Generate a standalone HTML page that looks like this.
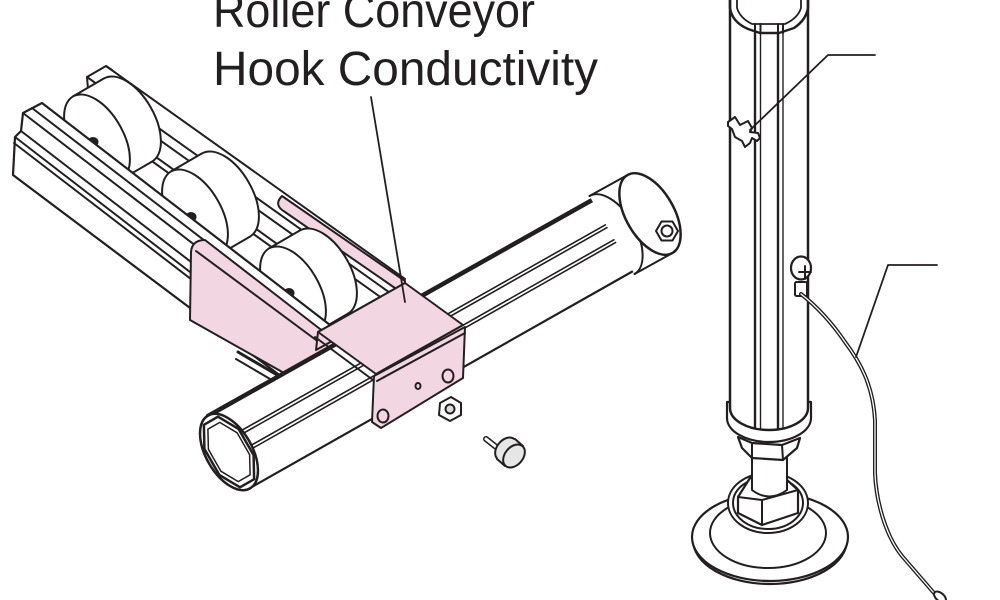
<!DOCTYPE html>
<html><head><meta charset="utf-8"><style>
html,body{margin:0;padding:0;background:#fff;}
svg{display:block;}
</style></head><body>
<svg width="1000" height="600" viewBox="0 0 1000 600" xmlns="http://www.w3.org/2000/svg">
<rect width="1000" height="600" fill="#fff"/>
<g font-family="'Liberation Sans', sans-serif" font-size="48" fill="#231f20">
<text x="213" y="27" textLength="322" lengthAdjust="spacingAndGlyphs">Roller Conveyor</text>
<text x="213" y="85" textLength="385" lengthAdjust="spacingAndGlyphs">Hook Conductivity</text>
</g>
<g fill="none" stroke="#231f20" stroke-width="2" stroke-linejoin="round" stroke-linecap="round">
<!-- back rail -->
<path d="M87,77 L106,66 L112,70 M87,77 L88,89"/>
<line x1="106" y1="66" x2="405" y2="279"/>
<line x1="87" y1="77" x2="400" y2="300"/>
<line x1="88" y1="89" x2="400" y2="311"/>
<line x1="110" y1="124" x2="330" y2="282"/>
<line x1="110" y1="131" x2="330" y2="289"/>
<!-- pink back strip -->
<path d="M282,196 L405,281 L405,295 L285,212 Q273,205 282,196 Z" fill="#f2d7e3"/>
<!-- roller 1 -->
<ellipse cx="128" cy="120" rx="48" ry="26" transform="rotate(60 128 120)" fill="#fff"/>
<polygon points="73,96.4 104,78.4 152,161.6 121,179.6" fill="#fff" stroke="none"/>
<line x1="73" y1="96.4" x2="104" y2="78.4"/><line x1="121" y1="179.6" x2="152" y2="161.6"/>
<ellipse cx="97" cy="138" rx="48" ry="26" transform="rotate(60 97 138)" fill="#fff"/>
<ellipse cx="93" cy="142" rx="4.5" ry="4" fill="#231f20"/>
<!-- roller 2 -->
<ellipse cx="226" cy="195" rx="48" ry="26" transform="rotate(60 226 195)" fill="#fff"/>
<polygon points="171,171.4 202,153.4 250,236.6 219,254.6" fill="#fff" stroke="none"/>
<line x1="171" y1="171.4" x2="202" y2="153.4"/><line x1="219" y1="254.6" x2="250" y2="236.6"/>
<ellipse cx="195" cy="213" rx="48" ry="26" transform="rotate(60 195 213)" fill="#fff"/>
<ellipse cx="191" cy="217" rx="4.5" ry="4" fill="#231f20"/>
<!-- roller 3 -->
<ellipse cx="324" cy="272" rx="48" ry="26" transform="rotate(60 324 272)" fill="#fff"/>
<polygon points="269,248.4 300,230.4 348,313.6 317,331.6" fill="#fff" stroke="none"/>
<line x1="269" y1="248.4" x2="300" y2="230.4"/><line x1="317" y1="331.6" x2="348" y2="313.6"/>
<ellipse cx="293" cy="290" rx="48" ry="26" transform="rotate(60 293 290)" fill="#fff"/>
<ellipse cx="289" cy="293" rx="4.5" ry="4" fill="#231f20"/>
<!-- front rail -->
<path d="M42,103 L330,325 L330,413 L13,175 L15,137 L21,131 L23,113 Z" fill="#fff" stroke="none"/>
<path d="M330,325 L42,103 L23,113 L21,131 L15,137 L13,175 L330,413" stroke-width="2.2"/>
<line x1="32" y1="108" x2="330" y2="337"/>
<line x1="23" y1="113" x2="330" y2="349"/>
<line x1="21" y1="131" x2="330" y2="369"/>
<line x1="15" y1="137" x2="330" y2="380"/>
<line x1="14" y1="143" x2="330" y2="386"/>
<!-- pink left plate -->
<path d="M191,252 Q192,240 205,240 L320,329 L333,337 L333,395 L300,382 L190,320 Z" fill="#f2d7e3"/>
<line x1="196" y1="251" x2="316" y2="340"/>
<!-- rail bottom piece -->
<line x1="238" y1="352" x2="284" y2="379" stroke-width="3"/>
<line x1="236" y1="359" x2="282" y2="386"/>
<!-- saddle back leg -->
<path d="M318,332 L405,283 L406,300 L316,350 Z" fill="#f2d7e3"/>
<!-- tube -->
<path d="M208,416 L594,199 L635,270 L250,488 Z" fill="#fff" stroke="none"/>
<line x1="208" y1="416" x2="594" y2="199" stroke-width="4.5"/>
<line x1="250" y1="488" x2="635" y2="270" stroke-width="2.2"/>
<line x1="222.7" y1="441.1" x2="607.9" y2="223.4" stroke-width="1.6"/>
<line x1="224.4" y1="444" x2="609.5" y2="226.2" stroke-width="1.6"/>
<line x1="231.5" y1="456.4" x2="616.5" y2="238.3" stroke-width="1.6"/>
<line x1="233.2" y1="459.3" x2="618.1" y2="241.1" stroke-width="1.6"/>
<ellipse cx="229" cy="452" rx="42" ry="23" transform="rotate(60 229 452)" fill="#fff" stroke-width="2.5"/>
<polygon points="254.1,479.2 253.6,455.1 238.7,429.1 218,416.7 203.9,424.8 204.4,448.9 219.3,474.9 240,487.3" stroke-width="2.5"/>
<polygon points="250.1,474.8 249.6,454.6 237.1,432.8 219.8,422.4 207.9,429.2 208.4,449.4 220.9,471.2 238.2,481.6" stroke-width="1.5"/>
<!-- tube end cap -->
<path d="M589.5,196 L627.5,175 L672.5,253 L634.5,274 Z" fill="#fff" stroke="none"/>
<line x1="589.5" y1="196" x2="627.5" y2="175"/>
<line x1="634.5" y1="274" x2="672.5" y2="253"/>
<path d="M589.5,196 A45,24 60 0 1 634.5,274"/>
<ellipse cx="650" cy="214" rx="45" ry="24" transform="rotate(60 650 214)" fill="#fff" stroke-width="2.5"/>
<polygon points="678,231 672.5,240.5 661.5,240.5 656,231 661.5,221.5 672.5,221.5" stroke-width="2"/>
<circle cx="667" cy="231" r="5.5"/>
<!-- saddle -->
<path d="M374,376 L465,327 L463,378 L381,428 L372,422 Z" fill="#f2d7e3"/>
<polygon points="318,332 405,283 463,325 376,374" fill="#f2d7e3"/>
<line x1="377" y1="381" x2="465" y2="333"/>
<line x1="315" y1="337" x2="373" y2="380"/>
<ellipse cx="383" cy="416" rx="5.5" ry="6.5" fill="#f2d7e3"/>
<ellipse cx="448" cy="376" rx="5.5" ry="6.5" fill="#f2d7e3"/>
<ellipse cx="418" cy="386" rx="2.5" ry="3"/>
<!-- leader from text -->
<line x1="371" y1="97" x2="405" y2="302" stroke-width="1.8"/>
<!-- nut -->
<polygon points="440,403 451,397 461,403 461,415 450,421 439,415" fill="#fff"/>
<circle cx="450" cy="409" r="4.5" fill="#ddd"/>
<!-- screw -->
<line x1="486" y1="439" x2="500" y2="450" stroke-width="6"/>
<line x1="486" y1="439" x2="500" y2="450" stroke="#fff" stroke-width="3"/>
<ellipse cx="506" cy="449" rx="13" ry="9" transform="rotate(130 506 449)" fill="#e6e6e6"/>
<polygon points="515,439 523,446 505,466 497,459" fill="#e6e6e6" stroke="none"/>
<line x1="515" y1="439" x2="523" y2="446"/><line x1="497" y1="459" x2="505" y2="466"/>
<ellipse cx="514" cy="456" rx="13" ry="9" transform="rotate(130 514 456)" fill="#e6e6e6"/>

<!-- POLE -->
<!-- base -->
<ellipse cx="770" cy="540" rx="77" ry="44" fill="#fff" stroke-width="2.2"/>
<ellipse cx="770" cy="537" rx="78" ry="44" fill="#fff" stroke-width="2.2"/>
<ellipse cx="768" cy="533" rx="58" ry="35" stroke-width="2"/>
<ellipse cx="768" cy="503" rx="40" ry="30" fill="#fff" stroke-width="2"/>
<ellipse cx="768" cy="503" rx="35" ry="26" stroke-width="2"/>
<!-- lower nut -->
<polygon points="738,497 750,478 787,480 798,490 798,513 762,525 738,513" fill="#fff" stroke-width="2.2"/>
<path d="M738,497 L762,500 L798,490 M762,500 L762,525"/>
<!-- stem -->
<path d="M752,455 L752,490 Q769,503 787,490 L787,455 Z" fill="#fff"/>
<!-- upper nut -->
<polygon points="738,437 752,443 782,445 800,438 797,448 783,460 752,458 742,448" fill="#fff" stroke-width="2.2"/>
<path d="M752,443 L752,458 M782,445 L783,460"/>
<!-- collar -->
<path d="M727,402 L727,418 A42,24 0 0 0 811,418 L811,402 Z" fill="#fff" stroke-width="2.2"/>
<!-- body -->
<path d="M730,-5 L730,408 A39,22 0 0 0 808,408 L808,-5 Z" fill="#fff" stroke-width="2.5"/>
<line x1="755" y1="33" x2="755" y2="428" stroke-width="2.4"/>
<line x1="760.5" y1="33" x2="760.5" y2="429" stroke-width="1.4"/>
<line x1="778" y1="33" x2="778" y2="429" stroke-width="2.4"/>
<line x1="783" y1="33" x2="783" y2="428" stroke-width="1.4"/>
<path d="M730,0 L730,8 Q732,22 748,29 L760,33 L779,33 L794,28 Q806,20 808,8 L808,0" stroke-width="2.5"/>
<path d="M737,0 L737,8 Q740,18 752,24 L785,24 Q798,18 801,8 L801,0" stroke-width="1.8"/>
<path d="M755,24 L755,33 M760.5,24 L760.5,33 M778,24 L778,33 M783,24 L783,33"/>
<!-- clip -->
<path d="M728,122 L735,117 L740,125 L748,121 L752,128 L750,132 L758,133 L760,138 L757,141 L752,138 L750,143 L745,147 L742,141 L735,137 L732,129 L728,126 Z" fill="#fff"/>
<polyline points="750,130 828,55 875,55" stroke-width="1.8"/>
<!-- terminal -->
<ellipse cx="801" cy="268" rx="10" ry="11.5" fill="#fff" stroke-width="2.2"/>
<path d="M799,272 L811,272 M805,266 L805,279" stroke-width="2"/>
<rect x="795" y="282" width="12" height="14" rx="1.5" fill="#fff" stroke-width="2"/>
<!-- cable -->
<path d="M801,294 C815,305 830,320 845,342 C860,362 873,385 875,420 L875,473 C876,500 885,535 902,556 L934,593" stroke-width="4"/>
<path d="M801,294 C815,305 830,320 845,342 C860,362 873,385 875,420 L875,473 C876,500 885,535 902,556 L934,593" stroke="#fff" stroke-width="1.3"/>
<ellipse cx="940" cy="597" rx="7" ry="4" transform="rotate(40 940 597)" fill="#fff" stroke-width="2"/>
<polyline points="856,357 888,265 937,265" stroke-width="1.8"/>
</g>
</svg>
</body></html>
